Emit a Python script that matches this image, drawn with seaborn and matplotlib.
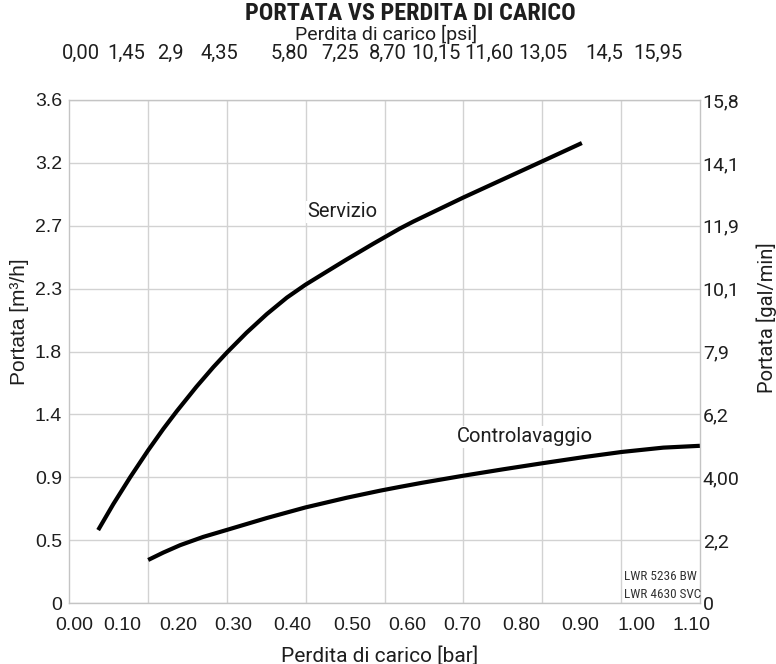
import matplotlib
matplotlib.use("Agg")
import matplotlib.pyplot as plt
from matplotlib import font_manager
import seaborn as sns
import pandas as pd

# ---- data ----
servizio_bar = [0.043, 0.070, 0.100, 0.132, 0.159, 0.183, 0.218, 0.248, 0.272, 0.307,
                0.343, 0.379, 0.412, 0.450, 0.485, 0.533, 0.580, 0.604, 0.693, 0.764,
                0.835, 0.904]
servizio_m3h = [0.522, 0.708, 0.900, 1.093, 1.246, 1.373, 1.548, 1.688, 1.792, 1.934,
                2.067, 2.186, 2.278, 2.372, 2.458, 2.572, 2.680, 2.730, 2.902, 3.033,
                3.164, 3.292]
controlavaggio_bar = [0.132, 0.159, 0.189, 0.230, 0.272, 0.343, 0.412, 0.485, 0.545, 0.580,
                      0.619, 0.693, 0.764, 0.835, 0.907, 0.975, 1.049, 1.114]
controlavaggio_m3h = [0.308, 0.361, 0.414, 0.473, 0.523, 0.608, 0.684, 0.753, 0.804, 0.831,
                      0.860, 0.911, 0.957, 1.001, 1.044, 1.081, 1.112, 1.125]

bar_labels = ["0.00", "0.10", "0.20", "0.30", "0.40", "0.50", "0.60", "0.70",
              "0.80", "0.90", "1.00", "1.10"]
bar_tick_pos = [0.0, 0.085, 0.185, 0.283, 0.388, 0.495, 0.593, 0.691, 0.797, 0.901, 1.002, 1.100]
psi_labels = ["0,00", "1,45", "2,9", "4,35", "5,80", "7,25", "8,70", "10,15",
              "11,60", "13,05", "14,5", "15,95"]
psi_tick_pos = [0.012, 0.093, 0.171, 0.258, 0.384, 0.473, 0.559, 0.644, 0.739, 0.835, 0.943, 1.040]
y_ticks = [0, 0.45, 0.9, 1.35, 1.8, 2.25, 2.7, 3.15, 3.6]
y_labels_left = ["0", "0.5", "0.9", "1.4", "1.8", "2.3", "2.7", "3.2", "3.6"]
y_labels_right = ["0", "2,2", "4,00", "6,2", "7,9", "10,1", "11,9", "14,1", "15,8"]

df = pd.concat([
    pd.DataFrame({"bar": servizio_bar, "m3h": servizio_m3h, "serie": "Servizio"}),
    pd.DataFrame({"bar": controlavaggio_bar, "m3h": controlavaggio_m3h, "serie": "Controlavaggio"}),
])

sns.set_theme(style="white")
plt.rcParams["font.family"] = ["Liberation Sans", "DejaVu Sans"]

installed = {f.name for f in font_manager.fontManager.ttflist}
if "Roboto Condensed" in installed:
    NARROW = ["Roboto Condensed", "DejaVu Sans"]
    title_size, model_size = 17.5, 9.5
elif "Liberation Sans Narrow" in installed:
    NARROW = ["Liberation Sans Narrow", "DejaVu Sans"]
    title_size, model_size = 17, 9.5
else:
    NARROW = ["Liberation Sans", "DejaVu Sans"]
    title_size, model_size = 14.2, 8.0

TXT = "#1e1e1e"
GRID = "#d2d2d2"
DIN = ["Roboto", "DejaVu Sans"]

W, H = 776, 664
fig = plt.figure(figsize=(W / 100, H / 100), dpi=100)
L, R, T, B = 69, 700, 100, 603
ax = fig.add_axes([L / W, 1 - B / H, (R - L) / W, (B - T) / H])

for name, sub in df.groupby("serie", sort=False):
    sns.lineplot(data=sub, x="bar", y="m3h", ax=ax, color="black", linewidth=3.0,
                 legend=False, solid_capstyle="butt", solid_joinstyle="round", zorder=5)

x0, x1 = -0.0089, 1.1143
ax.set_xlim(x0, x1)
ax.set_ylim(0, 3.6)

# grid: 8 equal columns, 8 rows
ax.set_xticks([x0 + k * (x1 - x0) / 8 for k in range(1, 8)], minor=True)
ax.set_xticks(bar_tick_pos)
ax.set_xticklabels(bar_labels, fontsize=14, color=TXT)
ax.set_yticks(y_ticks)
ax.set_yticklabels(y_labels_left, fontsize=14, color=TXT)
ax.grid(False)
ax.grid(True, which="minor", axis="x", color=GRID, linewidth=1.0)
ax.grid(True, which="major", axis="y", color=GRID, linewidth=1.0)
ax.tick_params(axis="x", which="both", length=0, pad=10)
ax.tick_params(axis="y", which="both", length=0, pad=5)
for s in ax.spines.values():
    s.set_color("#c4c4c4")
    s.set_linewidth(1.0)
ax.set_xlabel("Perdita di carico [bar]", fontsize=15, color=TXT, family=DIN)
ax.xaxis.set_label_coords((380 - L) / (R - L), (B - 646) / (B - T))
ax.set_ylabel("Portata [m³/h]", fontsize=15, color=TXT)
ax.yaxis.set_label_coords((29 - L) / (R - L), (B - 322) / (B - T))

# right axis (gal/min)
axr = ax.twinx()
axr.set_ylim(0, 3.6)
axr.set_yticks(y_ticks)
axr.set_yticklabels(y_labels_right, fontsize=14, color=TXT, family=DIN)
axr.tick_params(axis="y", length=0, pad=2)
axr.grid(False)
for s in axr.spines.values():
    s.set_visible(False)
axr.set_ylabel("Portata [gal/min]", fontsize=14.5, color=TXT, family=DIN)
axr.yaxis.set_label_coords((756 - L) / (R - L), (B - 318) / (B - T))

# top axis (psi)
axt = ax.twiny()
axt.set_xlim(x0, x1)
axt.set_xticks(psi_tick_pos)
axt.set_xticklabels(psi_labels, fontsize=14.5, color=TXT, family=DIN)
axt.tick_params(axis="x", length=0, pad=27)
axt.grid(False)
for s in axt.spines.values():
    s.set_visible(False)

fig.text(386 / W, 1 - 34 / H, "Perdita di carico [psi]", ha="center", va="center",
         fontsize=14, color=TXT, family=DIN)
fig.text(410 / W, 1 - 13 / H, "PORTATA VS PERDITA DI CARICO", ha="center", va="center",
         fontsize=title_size, fontweight="bold", color=TXT, family=NARROW)

# curve labels
box = dict(facecolor="white", edgecolor="none", pad=1.0)
ax.text(0.415, 2.80, "Servizio", ha="left", va="center", fontsize=14.5, color=TXT,
        family=DIN, bbox=box, zorder=6)
ax.text(0.803, 1.19, "Controlavaggio", ha="center", va="center", fontsize=14.5, color=TXT,
        family=DIN, bbox=box, zorder=6)

# model labels
ax.text((624 - L) / (R - L), (B - 576) / (B - T), "LWR 5236 BW", transform=ax.transAxes,
        ha="left", va="center", fontsize=model_size, color="#333333", family=NARROW, zorder=6)
ax.text((624 - L) / (R - L), (B - 595) / (B - T), "LWR 4630 SVC", transform=ax.transAxes,
        ha="left", va="center", fontsize=model_size, color="#333333", family=NARROW, zorder=6)

fig.savefig("out.png", dpi=100, facecolor="white")
